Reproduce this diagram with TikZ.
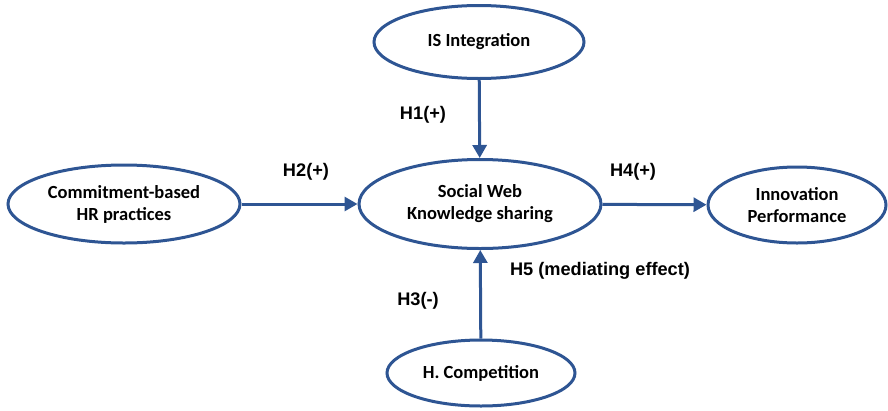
\documentclass[tikz,border=0pt]{standalone}
\usepackage{fontspec}
\setmainfont{Liberation Sans}
\newfontfamily\boxfont{Carlito}
\usetikzlibrary{shapes.geometric,arrows.meta}
\definecolor{pathblue}{HTML}{2E5593}

\begin{document}
\begin{tikzpicture}[
  x=1pt, y=-1pt,
  construct/.style={ellipse,draw=pathblue,line width=3pt,inner sep=0pt,
    align=center,font=\boxfont\bfseries\fontsize{18.5}{22}\selectfont},
  hyp/.style={font=\bfseries\fontsize{18.2}{20}\selectfont,anchor=base}
  ]
  \useasboundingbox (0,0) rectangle (888,410);

  \node[construct,minimum width=210pt,minimum height=73pt] (NIS)   at (479,42)  {IS Integration};
  \node[construct,minimum width=242pt,minimum height=89pt] (NSWK)  at (480,204) {Social Web\\Knowledge sharing};
  \node[construct,minimum width=232pt,minimum height=78pt] (NHR)   at (124,204) {Commitment-based\\HR practices};
  \node[construct,minimum width=178pt,minimum height=76pt] (NIP)   at (797,205) {Innovation\\Performance};
  \node[construct,minimum width=188pt,minimum height=66pt] (NComp) at (481,373) {H. Competition};

  \node[hyp] (H1) at (423,119) {H1(+)};
  \node[hyp] (H2) at (306,176) {H2(+)};
  \node[hyp] (H3) at (418,305) {H3(-)};
  \node[hyp] (H4) at (633,176) {H4(+)};
  \node[hyp] (H5) at (600,275) {H5 (mediating effect)};

  \path[-{Triangle[length=13pt,width=14pt]},draw=pathblue,fill=pathblue,line width=3pt]
  (NIS)   edge (NSWK)
  (NComp) edge (NSWK)
  (NHR)   edge (NSWK)
  (NSWK)  edge (NIP)
  ;
\end{tikzpicture}
\end{document}
